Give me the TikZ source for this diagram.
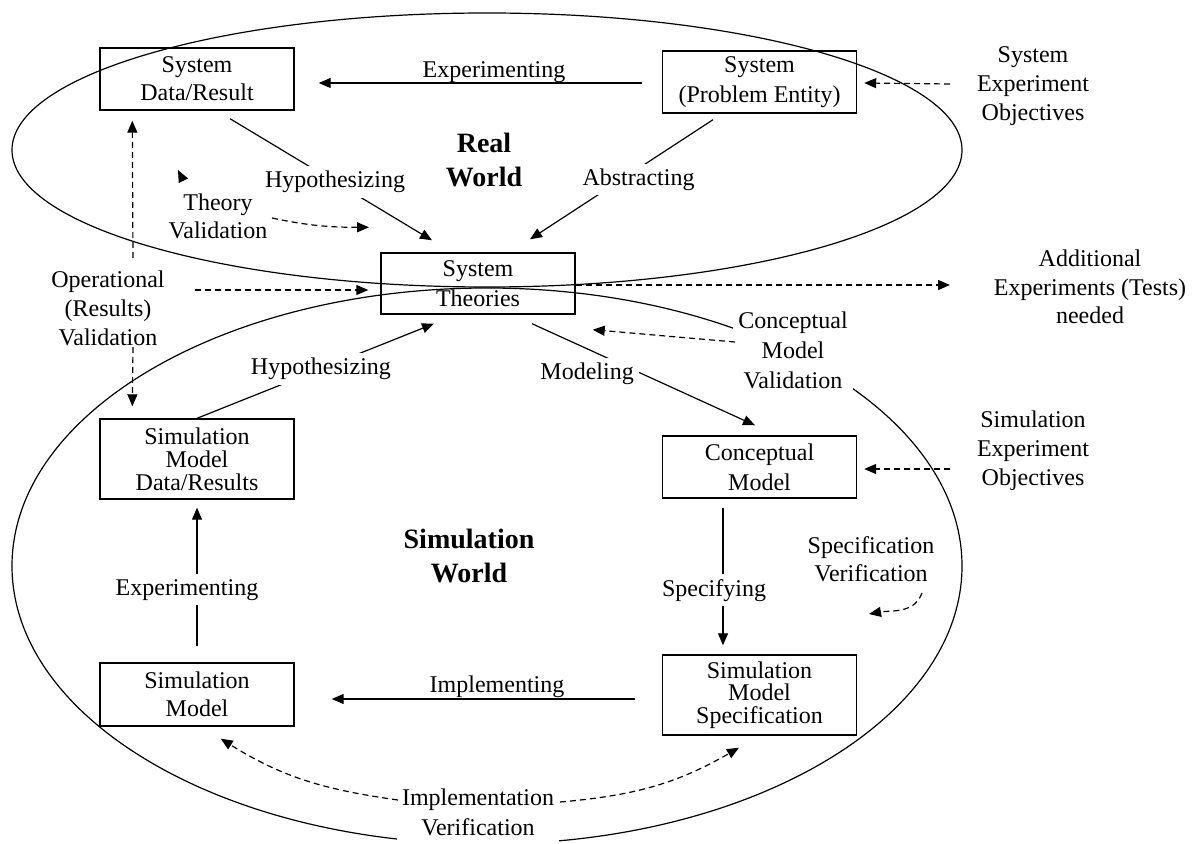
\documentclass[tikz,border=0pt]{standalone}
\usepackage{fontspec}
\setmainfont{Liberation Serif}
\usetikzlibrary{arrows.meta}
\begin{document}
\begin{tikzpicture}[x=0.5pt,y=-0.5pt,
  box/.style={draw, line width=0.7pt, align=center, inner sep=0pt, minimum width=97pt},
  txt/.style={align=center, inner sep=2pt, font=\fontsize{12pt}{14.5pt}\selectfont},
  lbl/.style={txt, fill=white, inner sep=2.5pt},
  world/.style={align=center, inner sep=2pt, font=\fontsize{14pt}{17pt}\selectfont\bfseries},
  arr/.style={line width=0.6pt, -{Triangle[length=6pt,width=5pt]}},
  darr/.style={arr, dash pattern=on 3pt off 2pt},
  rim/.style={line width=0.6pt}
]
\useasboundingbox (0,0) rectangle (1198,844);

% the two worlds
\draw[rim] (487,150) ellipse [x radius=237.5pt, y radius=68.5pt];
\draw[rim] (487,566) ellipse [x radius=237.5pt, y radius=139pt];

% boxes
\node[box, minimum height=31pt, font=\fontsize{12pt}{14pt}\selectfont] (sdr) at (197,79) {System\\Data/Result};
\node[box, minimum height=31pt, font=\fontsize{12pt}{15pt}\selectfont] (spe) at (759.5,82) {System\\(Problem Entity)};
\node[box, minimum height=30.5pt, font=\fontsize{12pt}{15pt}\selectfont] (st) at (478,283.5) {System\\Theories};
\node[box, minimum height=40pt, font=\fontsize{12pt}{11.5pt}\selectfont] (smdr) at (197,459) {Simulation\\Model\\Data/Results};
\node[box, minimum height=31.5pt, font=\fontsize{12pt}{14pt}\selectfont] (sm) at (197,694.5) {Simulation\\Model};
\node[box, minimum height=31pt, font=\fontsize{12pt}{15pt}\selectfont] (cm) at (759.5,467) {Conceptual\\Model};
\node[box, minimum height=40pt, font=\fontsize{12pt}{11.25pt}\selectfont] (sms) at (759.5,695) {Simulation\\Model\\Specification};

% free-standing texts
\node[world] (rw) at (484,160) {Real\\World};
\node[world] (sw) at (469,556) {Simulation\\World};
\node[txt] (op) at (108,308) {Operational\\(Results)\\Validation};
\node[txt, font=\fontsize{12pt}{14pt}\selectfont] (tv) at (218,216) {Theory\\Validation};
\node[txt] (seo) at (1033,86) {System\\Experiment\\Objectives};
\node[txt] (simo) at (1033,451) {Simulation\\Experiment\\Objectives};
\node[txt, font=\fontsize{12pt}{14.25pt}\selectfont] (ad) at (1090,287) {Additional\\Experiments (Tests)\\needed};
\node[txt, font=\fontsize{12pt}{14pt}\selectfont] (sv) at (871,559) {Specification\\Verification};
\node[lbl, font=\fontsize{12pt}{15pt}\selectfont] (cmv) at (793,350) {Conceptual\\Model\\Validation};
\node[lbl, inner ysep=4pt, font=\fontsize{12pt}{15pt}\selectfont] (iv) at (478,812) {Implementation\\Verification};
\node[txt] (lexp) at (494,72) {Experimenting};
\node[txt] (limp) at (497,687) {Implementing};

% solid connectors
\draw[arr, shorten <=10pt, shorten >=12pt] ([yshift=-0.5pt]spe.west) -- ([yshift=-2pt]sdr.east);
\draw[arr] ([xshift=16.5pt,yshift=-4pt]sdr.south)
  -- node[lbl, pos=0.52] (lh1) {Hypothesizing} ([xshift=-23pt,yshift=6pt]st.north);
\draw[arr] ([xshift=-23.25pt,yshift=-3pt]spe.south)
  -- node[lbl, pos=0.5, xshift=8.5pt] (lab) {Abstracting} ([xshift=26pt,yshift=6.5pt]st.north);
\draw[arr] ([xshift=27pt,yshift=-4.5pt]st.south)
  -- node[lbl, pos=0.247, yshift=-12.5pt] (lmod) {Modeling} ([xshift=-2.25pt,yshift=5pt]cm.north);
\draw[arr] ([xshift=-18.25pt,yshift=-4.5pt]cm.south)
  -- node[lbl, pos=0.6, xshift=-4.5pt] (lspec) {Specifying} ([xshift=-18.25pt,yshift=4.5pt]sms.north);
\draw[arr, shorten <=13.5pt, shorten >=18.5pt] ([yshift=-2pt]sms.west) -- ([yshift=-2.25pt]sm.east);
\draw[arr] ([yshift=8pt]sm.north)
  -- node[lbl, pos=0.407, xshift=-5pt] (lexp2) {Experimenting} ([yshift=-4pt]smdr.south);
\draw[arr] (smdr.north)
  -- node[lbl, pos=0.523] (lh2) {Hypothesizing} ([xshift=-22pt,yshift=-4.5pt]st.south);

% dashed connectors
\draw[darr] ([xshift=-41.5pt,yshift=1pt]seo.center) -- ([xshift=3.5pt,yshift=-0.5pt]spe.east);
\draw[darr] ([xshift=-41.5pt,yshift=-9pt]simo.center) -- ([xshift=3.5pt,yshift=-1pt]cm.east);
\draw[darr] ([yshift=-0.75pt]st.east) -- ([xshift=-70pt,yshift=1pt]ad.center);
\draw[darr] ([xshift=12.5pt,yshift=25pt]op.center) -- ([xshift=16.5pt,yshift=-5pt]sdr.south west);
\draw[darr] ([xshift=12.5pt,yshift=-19.5pt]op.center) -- ([xshift=16.5pt,yshift=6pt]smdr.north west);
\draw[darr] ([xshift=43.5pt,yshift=9pt]op.center) -- ([xshift=-6pt,yshift=-3.25pt]st.west);
\draw[darr] ([xshift=27pt,yshift=-1pt]tv.center) to[out=-12,in=180] ([xshift=-54.5pt,yshift=12.5pt]st.north);
\draw[darr] ([xshift=-17.5pt,yshift=18pt]tv.center) -- ([xshift=-20pt,yshift=23pt]tv.center);
\draw[darr] ([xshift=-29pt,yshift=4pt]cmv.center) -- ([xshift=8.5pt,yshift=-7.5pt]st.south east);
\draw[darr] ([xshift=25.5pt,yshift=-17pt]sv.center) to[out=-110,in=10] ([xshift=-1pt,yshift=-27.5pt]sv.center);
\draw[darr] ([xshift=-40pt,yshift=6pt]iv.center) to[out=172,in=-32] ([xshift=-37pt,yshift=-6pt]sm.south east);
\draw[darr] ([xshift=41pt,yshift=5pt]iv.center) to[out=5,in=-150] ([xshift=-10.25pt,yshift=-6pt]sms.south);
\end{tikzpicture}
\end{document}
